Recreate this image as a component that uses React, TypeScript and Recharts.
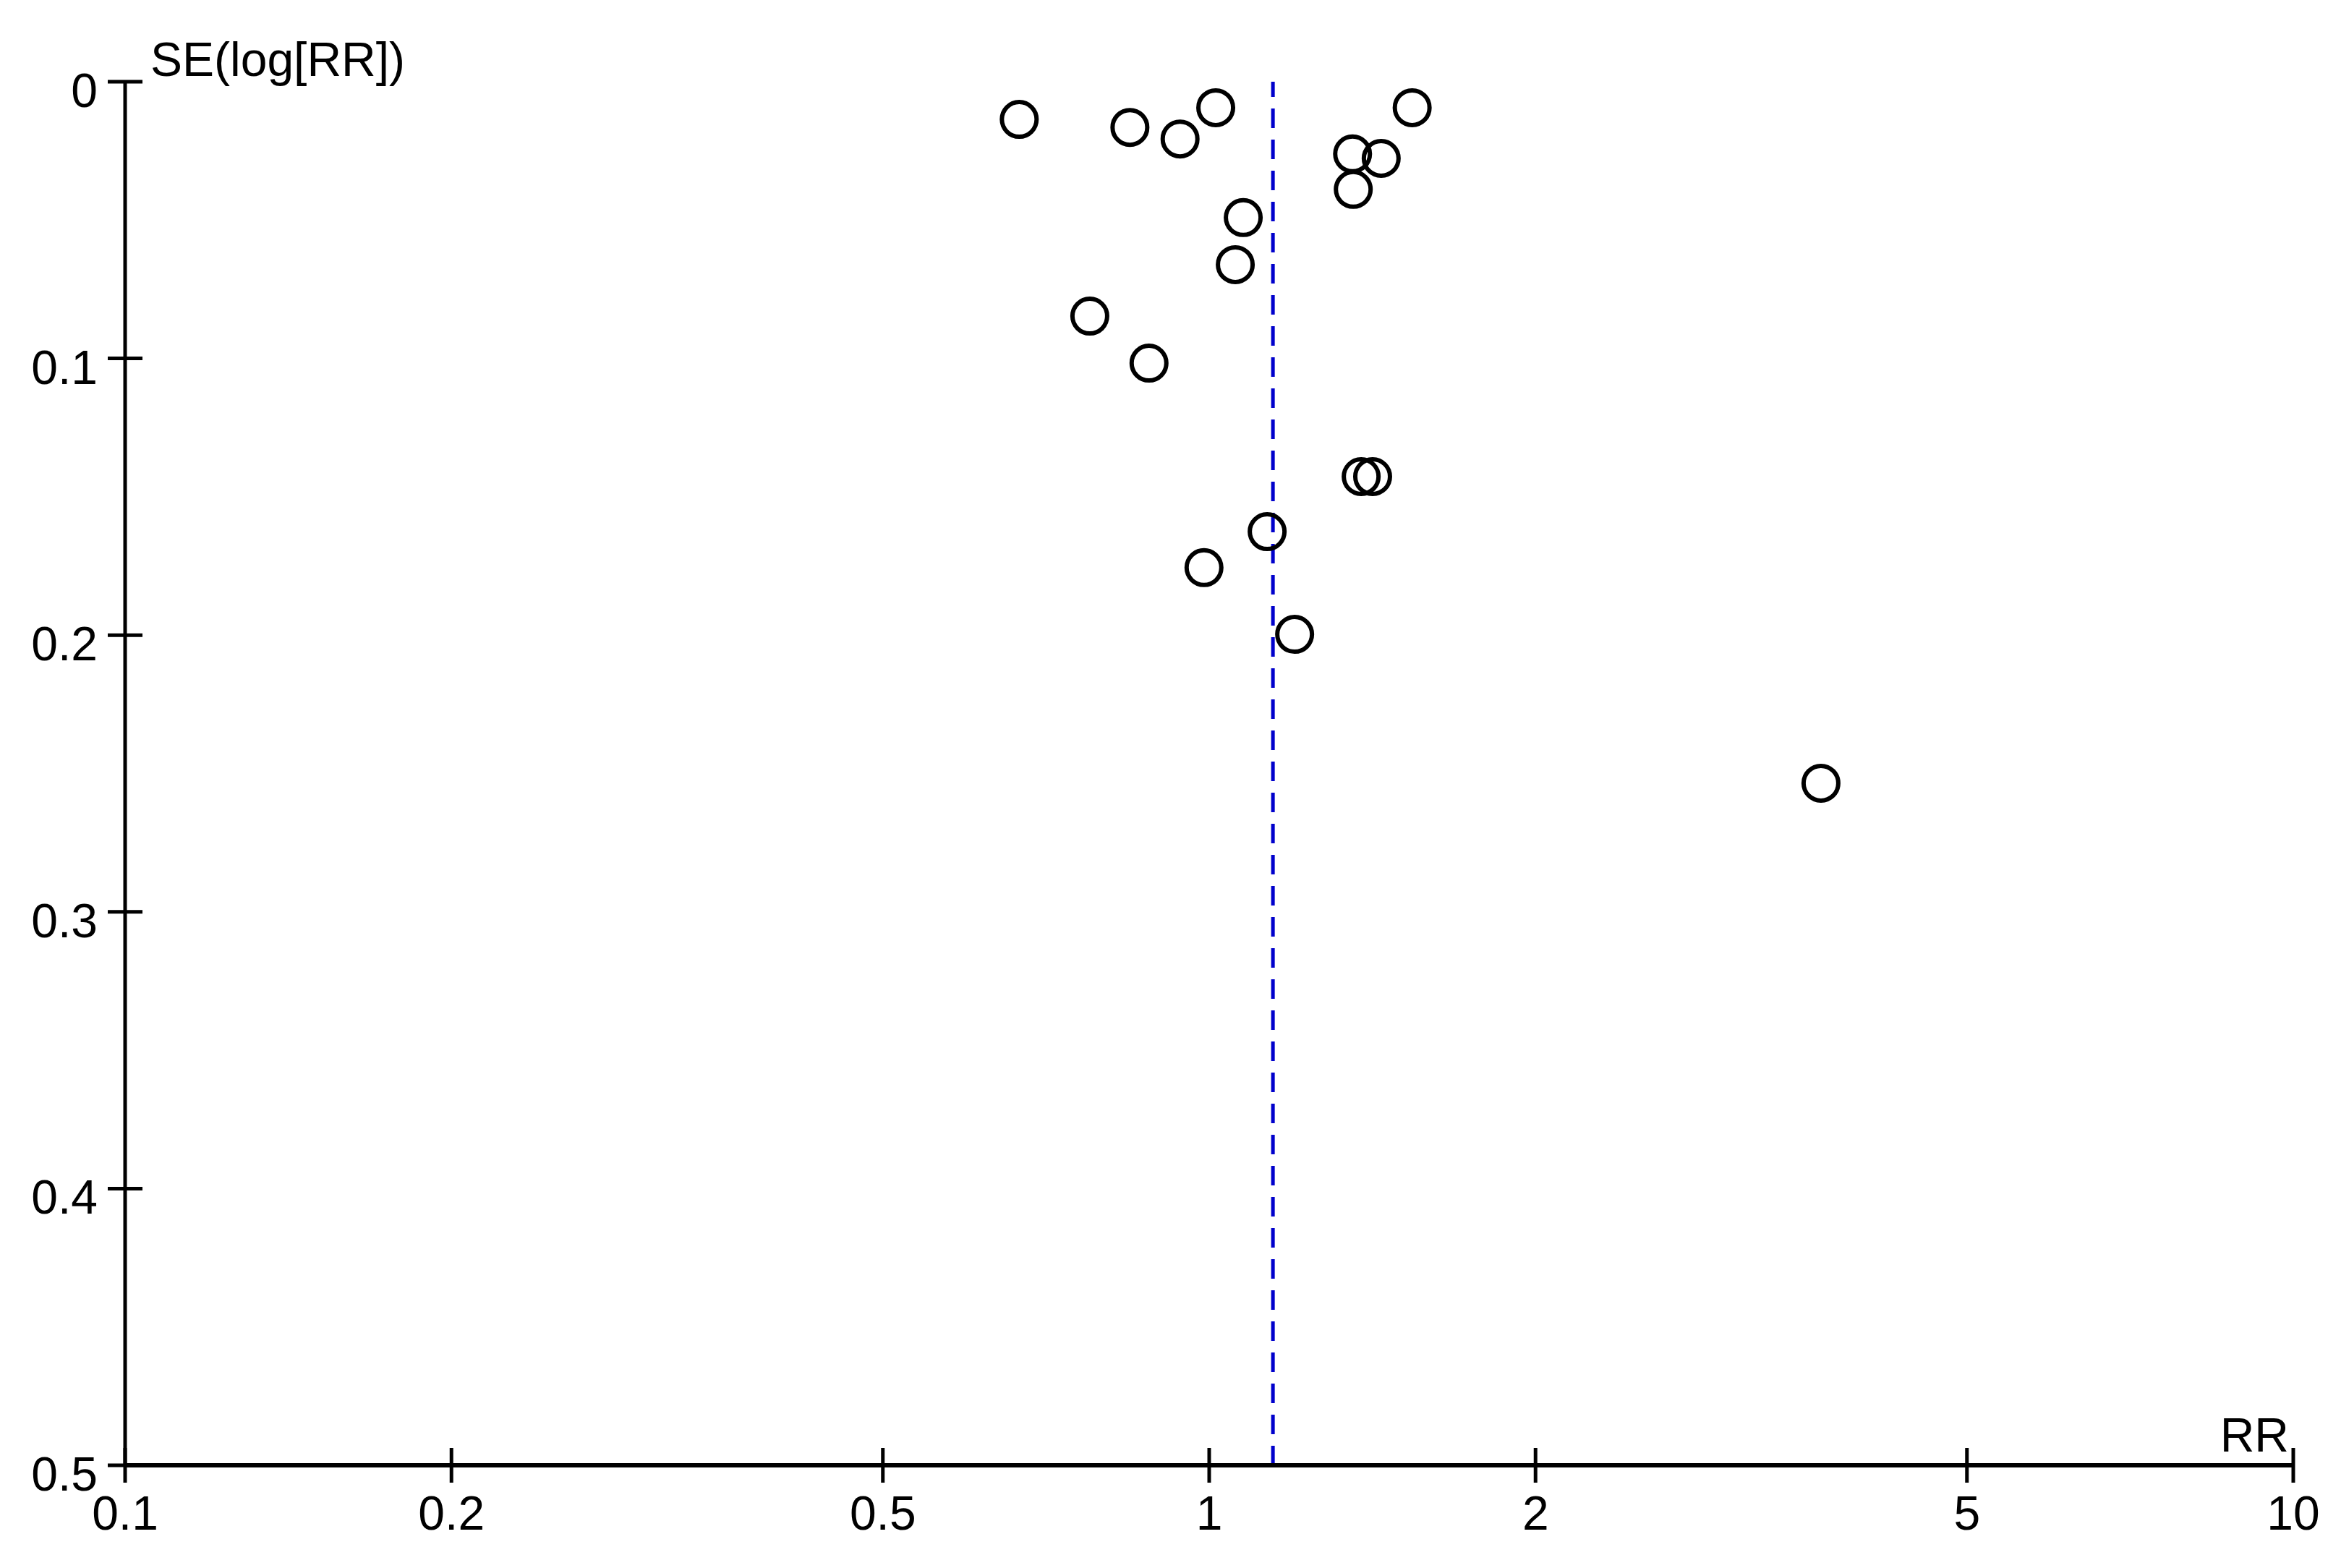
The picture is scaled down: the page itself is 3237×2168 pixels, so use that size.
import React from "react";
import { ScatterChart, Scatter, XAxis, YAxis, ReferenceLine } from "recharts";

// funnel plot data
const rrValues = [
  0.668, 0.845, 0.94, 1.014, 1.539, 1.356, 1.441, 1.358, 1.075, 1.057, 0.776, 0.88, 1.381, 1.415, 1.131,
  0.989, 1.199, 3.667,
];
const seValues = [
  0.0136, 0.0165, 0.0207, 0.0094, 0.0094, 0.0261, 0.0277, 0.0389, 0.0491, 0.0661, 0.0847, 0.1017, 0.1427,
  0.1427, 0.1626, 0.1756, 0.1997, 0.2535,
];
const xTicks = [0.1, 0.2, 0.5, 1, 2, 5, 10];
const xTickLabels = ["0.1", "0.2", "0.5", "1", "2", "5", "10"];
const yTicks = [0, 0.1, 0.2, 0.3, 0.4, 0.5];
const yTickLabels = ["0", "0.1", "0.2", "0.3", "0.4", "0.5"];
const pooledRR = 1.145;

const points = rrValues.map((rr, i) => ({ rr, se: seValues[i] }));

const FONT = "'Liberation Sans', Arial, sans-serif";
const FONT_SIZE = 66;

const XTick = (props: any) => {
  const { x, y, payload } = props;
  const i = xTicks.indexOf(payload.value);
  return (
    <g>
      <line x1={x} x2={x} y1={y - 24} y2={y + 24} stroke="#000" strokeWidth={5} />
      <text x={x} y={y + 89} textAnchor="middle" fontFamily={FONT} fontSize={FONT_SIZE} fill="#000">
        {xTickLabels[i]}
      </text>
    </g>
  );
};

const YTick = (props: any) => {
  const { x, y, payload } = props;
  const i = yTicks.indexOf(payload.value);
  return (
    <g>
      <line x1={x - 24} x2={x + 24} y1={y} y2={y} stroke="#000" strokeWidth={5} />
      <text x={x - 38} y={y + 35} textAnchor="end" fontFamily={FONT} fontSize={FONT_SIZE} fill="#000">
        {yTickLabels[i]}
      </text>
    </g>
  );
};

const Ring = (props: any) => (
  <circle cx={props.cx} cy={props.cy} r={24} fill="none" stroke="#000" strokeWidth={6} />
);

export default function App() {
  return (
    <div style={{ width: 3220, height: 2150, background: "#fff" }}>
      <ScatterChart width={3220} height={2150} margin={{ top: 105, right: 57, bottom: 0, left: 0 }}>
        <XAxis
          type="number"
          dataKey="rr"
          scale="log"
          domain={[0.1, 10]}
          ticks={xTicks}
          allowDataOverflow
          height={132}
          tickSize={0}
          tickMargin={0}
          tick={<XTick />}
          axisLine={{ stroke: "#000", strokeWidth: 6 }}
          tickLine={false}
          label={{
            content: (p: any) => (
              <text
                x={p.viewBox.x + p.viewBox.width - 6}
                y={p.viewBox.y - 19}
                textAnchor="end"
                fontFamily={FONT}
                fontSize={FONT_SIZE}
                fill="#000"
              >
                RR
              </text>
            ),
          }}
        />
        <YAxis
          type="number"
          dataKey="se"
          domain={[0, 0.5]}
          ticks={yTicks}
          reversed
          allowDataOverflow
          width={165}
          tickSize={0}
          tickMargin={0}
          tick={<YTick />}
          axisLine={{ stroke: "#000", strokeWidth: 5 }}
          tickLine={false}
          label={{
            content: (p: any) => (
              <text
                x={p.viewBox.x + p.viewBox.width + 35}
                y={p.viewBox.y - 8}
                textAnchor="start"
                fontFamily={FONT}
                fontSize={FONT_SIZE}
                fill="#000"
              >
                SE(log[RR])
              </text>
            ),
          }}
        />
        <ReferenceLine x={pooledRR} stroke="#0000cc" strokeWidth={5} strokeDasharray="27 16" />
        <Scatter data={points} shape={<Ring />} isAnimationActive={false} />
      </ScatterChart>
    </div>
  );
}
